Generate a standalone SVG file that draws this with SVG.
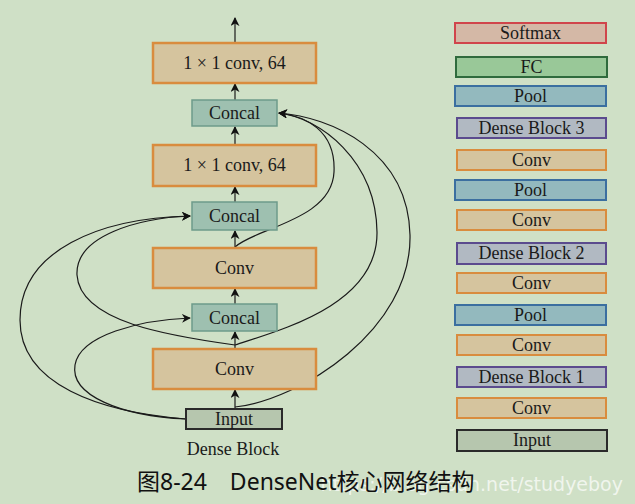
<svg xmlns="http://www.w3.org/2000/svg" width="635" height="504" viewBox="0 0 635 504">
<defs>
<marker id="ah" viewBox="0 0 10 10" refX="9" refY="5" markerWidth="9" markerHeight="9" markerUnits="userSpaceOnUse" orient="auto">
<path d="M0,0 L10,5 L0,10 L3,5 Z" fill="#111"/>
</marker>
<style>
.t{font-family:"Liberation Serif","Times New Roman",serif;fill:#1a1a1a;text-anchor:middle}
.big{font-size:18px}
.sm{font-size:18px}
.conv{fill:#d5c49e;stroke:#d98c3e;stroke-width:2.5}
.cc{fill:#9ec0b0;stroke:#6e9b8b;stroke-width:1.5}
.inp{fill:#b6c6ae;stroke:#2a2a2a;stroke-width:2}
.rconv{fill:#d5c49e;stroke:#d98c3e;stroke-width:2}
.pool{fill:#93b9be;stroke:#3b6fa0;stroke-width:2}
.db{fill:#b1b9c2;stroke:#5b4b8e;stroke-width:2}
.fc{fill:#99c898;stroke:#2f6b3d;stroke-width:2}
.sfm{fill:#d4b8a6;stroke:#d0454b;stroke-width:2}
.ln{fill:none;stroke:#1a1a1a;stroke-width:1.2;marker-end:url(#ah)}
</style>
</defs>
<rect width="635" height="504" fill="#cfe0c6"/>

<g id="connectors">
<path class="ln" d="M235,43 V18"/>
<path class="ln" d="M235,100 V84"/>
<path class="ln" d="M235,145 V127"/>
<path class="ln" d="M235,202 V187"/>
<path class="ln" d="M235,248 V231"/>
<path class="ln" d="M235,304 V289"/>
<path class="ln" d="M235,349 V332"/>
<path class="ln" d="M235,409 V390"/>
<path class="ln" d="M186,419 C120,416 70,395 75,365 C80,335 140,320 190,318"/>
<path class="ln" d="M186,419 C100,412 20,385 20,320 C20,250 100,218 190,216"/>
<path class="ln" d="M235,345 C170,336 80,322 77,275 C75,235 140,218 190,216"/>
<path class="ln" d="M235,407 C300,400 412,330 410,235 C408,150 330,117 279,113"/>
<path class="ln" d="M235,345 C280,330 378,305 377,232 C376,160 320,118 279,113"/>
<path class="ln" d="M235,247 C255,228 332,220 334,172 C336,130 305,116 279,113"/>
</g>

<g id="n-conv1x1-top"><rect class="conv" x="153" y="43" width="163" height="40"/><text class="t big" x="234.5" y="69">1 × 1 conv, 64</text></g>
<g id="n-concal-top"><rect class="cc" x="192" y="100" width="85" height="26"/><text class="t big" x="234.5" y="119">Concal</text></g>
<g id="n-conv1x1-mid"><rect class="conv" x="153" y="145" width="163" height="41"/><text class="t big" x="234.5" y="171">1 × 1 conv, 64</text></g>
<g id="n-concal-2"><rect class="cc" x="192" y="202" width="85" height="28"/><text class="t big" x="234.5" y="222">Concal</text></g>
<g id="n-conv-2"><rect class="conv" x="153" y="248" width="163" height="40"/><text class="t big" x="234.5" y="274">Conv</text></g>
<g id="n-concal-3"><rect class="cc" x="192" y="304" width="85" height="27"/><text class="t big" x="234.5" y="324">Concal</text></g>
<g id="n-conv-1"><rect class="conv" x="153" y="349" width="163" height="40"/><text class="t big" x="234.5" y="375">Conv</text></g>
<g id="n-input"><rect class="inp" x="186" y="409" width="96" height="20"/><text class="t sm" x="234" y="425">Input</text></g>
<text class="t sm" x="233" y="455">Dense Block</text>

<g id="r-softmax"><rect class="sfm" x="455" y="23" width="151" height="20"/><text class="t sm" x="530.5" y="39">Softmax</text></g>
<g id="r-fc"><rect class="fc" x="456" y="57" width="151" height="20"/><text class="t sm" x="531.5" y="73">FC</text></g>
<g id="r-pool3"><rect class="pool" x="455" y="86" width="151" height="20"/><text class="t sm" x="530.5" y="102">Pool</text></g>
<g id="r-db3"><rect class="db" x="457" y="118" width="149" height="20"/><text class="t sm" x="531.5" y="134">Dense Block 3</text></g>
<g id="r-conv5"><rect class="rconv" x="457" y="150" width="149" height="20"/><text class="t sm" x="531.5" y="166">Conv</text></g>
<g id="r-pool2"><rect class="pool" x="455" y="180" width="151" height="20"/><text class="t sm" x="530.5" y="196">Pool</text></g>
<g id="r-conv4"><rect class="rconv" x="457" y="210" width="149" height="20"/><text class="t sm" x="531.5" y="226">Conv</text></g>
<g id="r-db2"><rect class="db" x="457" y="243" width="149" height="21"/><text class="t sm" x="531.5" y="259">Dense Block 2</text></g>
<g id="r-conv3"><rect class="rconv" x="457" y="273" width="149" height="20"/><text class="t sm" x="531.5" y="289">Conv</text></g>
<g id="r-pool1"><rect class="pool" x="455" y="305" width="151" height="20"/><text class="t sm" x="530.5" y="321">Pool</text></g>
<g id="r-conv2"><rect class="rconv" x="457" y="335" width="149" height="20"/><text class="t sm" x="531.5" y="351">Conv</text></g>
<g id="r-db1"><rect class="db" x="457" y="367" width="149" height="20"/><text class="t sm" x="531.5" y="383">Dense Block 1</text></g>
<g id="r-conv1"><rect class="rconv" x="457" y="398" width="149" height="20"/><text class="t sm" x="531.5" y="414">Conv</text></g>
<g id="r-input"><rect class="inp" x="457" y="430" width="150" height="21"/><text class="t sm" x="532" y="446">Input</text></g>

<text x="623" y="491" text-anchor="end" font-family="'DejaVu Sans',sans-serif" font-size="19" fill="#ffffff" fill-opacity="0.7">https://blog.csdn.net/studyeboy</text>
<text x="137" y="490" font-family="'Noto Sans','Noto Sans CJK SC',sans-serif" font-size="23" fill="#111">图8-24　DenseNet核心网络结构</text>
</svg>
